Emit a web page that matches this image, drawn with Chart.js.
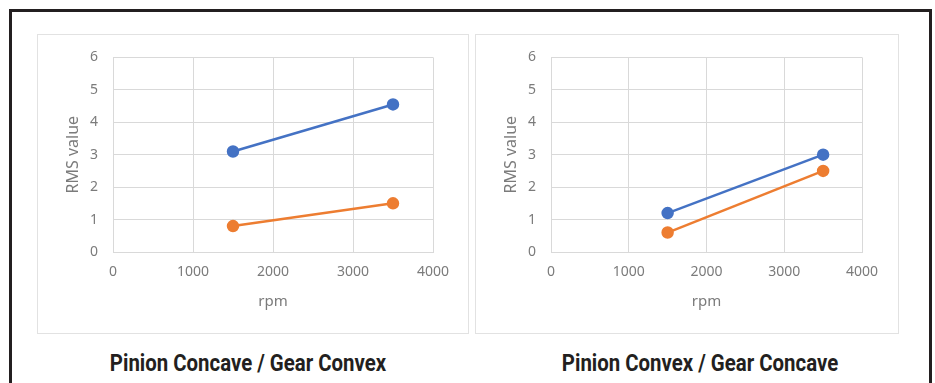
<!DOCTYPE html>
<html>
<head>
<meta charset="utf-8">
<script src="https://cdn.jsdelivr.net/npm/chart.js@4.4.0/dist/chart.umd.min.js"></script>
<style>
  html, body { margin: 0; padding: 0; background: #fff; }
  #wrap { position: relative; width: 935px; height: 383px; overflow: hidden; background: #fff; }
  #frame { position: absolute; left: 9px; top: 9px; width: 917px; height: 420px; border: 3px solid #231f20; border-bottom: none; }
  .box { position: absolute; top: 34px; height: 300px; border: 1px solid #e2e2e2; box-sizing: border-box; }
  .plot { position: absolute; top: 34px; height: 300px; }
  .plot canvas { display: block; }
  .cap { position: absolute; top: 349px; width: 400px; height: 28px; line-height: 28px; text-align: center;
         font-family: Roboto, "Liberation Sans", sans-serif; font-weight: bold; font-size: 24px;
         color: #231f20; white-space: nowrap; transform: scaleX(0.85); transform-origin: 50% 50%; }
</style>
</head>
<body>
<div id="wrap">
  <div id="frame"></div>
  <div class="box" style="left:37px;width:432px"></div>
  <div class="box" style="left:475px;width:424px"></div>
  <div class="plot" style="left:37px;width:432px"><canvas id="left" width="432" height="300"></canvas></div>
  <div class="plot" style="left:475px;width:424px"><canvas id="right" width="424" height="300"></canvas></div>
  <div class="cap" style="left:48px">Pinion Concave / Gear Convex</div>
  <div class="cap" style="left:500px">Pinion Convex / Gear Concave</div>
</div>
<script>
  // values
  const rpm = [1500, 3500];
  const leftBlue = [3.1, 4.55];
  const leftOrange = [0.8, 1.5];
  const rightBlue = [1.2, 3.0];
  const rightOrange = [0.6, 2.5];
  const xTicks = [0, 1000, 2000, 3000, 4000];
  const yTicks = [0, 1, 2, 3, 4, 5, 6];

  const BLUE = "#4472c4";
  const ORANGE = "#ed7d31";
  const GRID = "#d9d9d9";
  const TEXT = "#7b7b7b";
  const FONT = "'Noto Sans', 'Open Sans', sans-serif";

  const pts = (ys) => rpm.map((x, i) => ({ x, y: ys[i] }));

  function series(ys, color) {
    return {
      data: pts(ys),
      showLine: true,
      borderColor: color,
      backgroundColor: color,
      pointBackgroundColor: color,
      pointBorderColor: color,
      borderWidth: 2.5,
      pointRadius: 5,
      pointHoverRadius: 5
    };
  }

  function makeChart(id, blue, orange, padRight) {
    new Chart(document.getElementById(id), {
      type: "scatter",
      data: { datasets: [series(blue, BLUE), series(orange, ORANGE)] },
      options: {
        responsive: false,
        animation: false,
        layout: { padding: { top: 22, right: padRight, bottom: 0, left: 0 } },
        plugins: { legend: { display: false }, tooltip: { enabled: false } },
        scales: {
          x: {
            type: "linear",
            min: xTicks[0],
            max: xTicks[xTicks.length - 1],
            afterBuildTicks: (s) => { s.ticks = xTicks.map((v) => ({ value: v })); },
            afterFit: (s) => { s.height = 82; },
            grid: { color: GRID, lineWidth: 1, drawTicks: false },
            border: { color: GRID, width: 1 },
            ticks: { color: TEXT, padding: 12, font: { family: FONT, size: 14 }, callback: (v) => String(v) },
            title: { display: true, text: "rpm", color: TEXT, padding: { top: 0, bottom: 23 }, font: { family: FONT, size: 15 } }
          },
          y: {
            min: yTicks[0],
            max: yTicks[yTicks.length - 1],
            afterBuildTicks: (s) => { s.ticks = yTicks.map((v) => ({ value: v })); },
            afterFit: (s) => { s.width = 76; },
            grid: { color: GRID, lineWidth: 1, drawTicks: false },
            border: { color: GRID, width: 1 },
            ticks: { color: TEXT, padding: 15, font: { family: FONT, size: 14 }, callback: (v) => String(v) },
            title: { display: true, text: "RMS value", color: TEXT, padding: { top: 27, bottom: 0 }, font: { family: FONT, size: 16 } }
          }
        }
      }
    });
  }

  makeChart("left", leftBlue, leftOrange, 36);
  makeChart("right", rightBlue, rightOrange, 37);
</script>
</body>
</html>
